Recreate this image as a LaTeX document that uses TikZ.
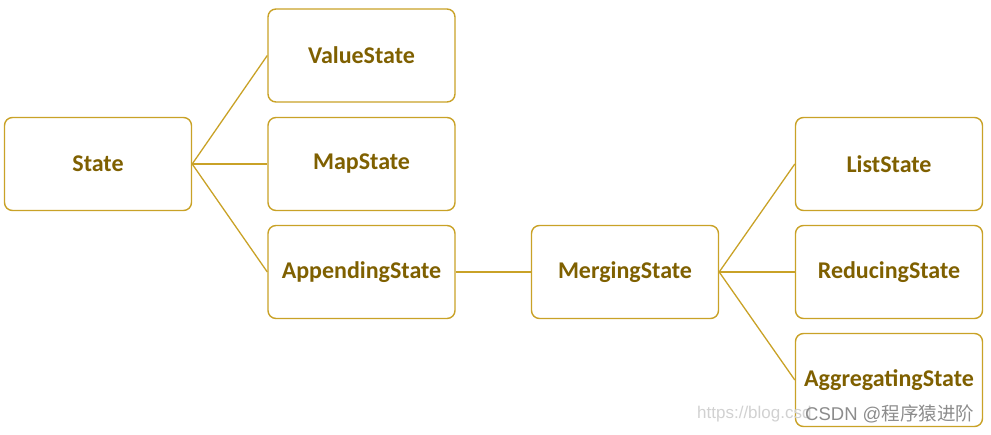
\documentclass[tikz,border=0pt]{standalone}
\usepackage{fontspec}
\setmainfont{Carlito}
\newfontfamily\wmfont{Liberation Sans}
\newfontfamily\cjk{Noto Sans CJK SC}
\usepackage{tikz}
\definecolor{boxline}{HTML}{C9A227}
\definecolor{boxtext}{HTML}{7F6000}
\tikzset{
	statebox/.style={draw=boxline, line width=1.4pt, rounded corners=8pt, fill=white,
		minimum width=187pt, minimum height=93pt, inner sep=0pt,
		text=boxtext, font=\fontsize{24}{28}\selectfont\bfseries},
	link/.style={draw=boxline, line width=1.3pt}
}

\begin{document}
\begin{tikzpicture}[x=1pt, y=-1pt]
			%%%%% START %%%%%
			
			\useasboundingbox (0, 0) rectangle (991, 435);
			
			\node[statebox] (state) at (98, 164) {State};
			
			\node[statebox] (value) at (361.5, 55.5) {ValueState};
			\node[statebox] (map) at (361.5, 164) {MapState};
			\node[statebox] (appending) at (361.5, 272) {AppendingState};
			
			\node[statebox] (merging) at (625, 272) {MergingState};
			
			\node[statebox] (list) at (889, 164) {ListState};
			\node[statebox] (reducing) at (889, 272) {ReducingState};
			\node[statebox] (aggregating) at (889, 380) {AggregatingState};
			
			\draw[link] (state.east) -- (value.west);
			\draw[link] (state.east) -- (map.west);
			\draw[link] (state.east) -- (appending.west);
			
			\draw[link] (appending.east) -- (merging.west);
			
			\draw[link] (merging.east) -- (list.west);
			\draw[link] (merging.east) -- (reducing.west);
			\draw[link] (merging.east) -- (aggregating.west);
			
			\node[anchor=west, text=black!18, font=\wmfont\fontsize{17}{20}\selectfont, inner sep=0pt] (url) at (697, 414) {https://blog.csd};
			\node[anchor=west, text=black!45, font=\wmfont\fontsize{18.5}{20}\selectfont, inner sep=0pt] (mark) at (805, 414) {CSDN @{\cjk 程序猿进阶}};
			
			%%%%% END %%%%%
\end{tikzpicture}
\end{document}
